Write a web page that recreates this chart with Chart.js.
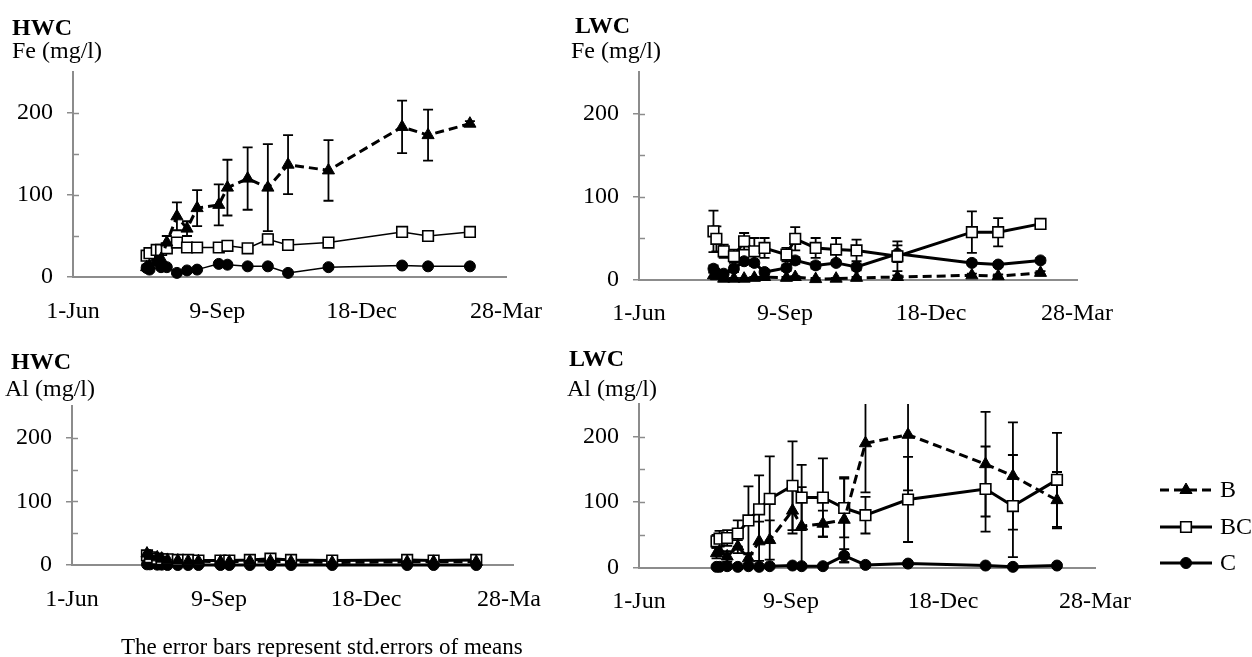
<!DOCTYPE html>
<html><head><meta charset="utf-8">
<script src="https://cdn.jsdelivr.net/npm/chart.js@4.4.0/dist/chart.umd.min.js"></script>
<style>
html,body{margin:0;padding:0;background:#fff;width:1252px;height:657px;overflow:hidden;position:relative;}
canvas{position:absolute;left:0;top:0;}
.t{position:absolute;font-family:"Liberation Serif","Times New Roman",serif;font-size:24px;line-height:24px;color:#000;white-space:nowrap;}
.b{font-weight:bold;}
</style></head><body>
<div style="position:absolute;left:0;top:0;width:1252px;height:657px;"><canvas id="c1" width="1252" height="657"></canvas></div>
<div style="position:absolute;left:0;top:0;width:1252px;height:657px;"><canvas id="c2" width="1252" height="657"></canvas></div>
<div style="position:absolute;left:0;top:0;width:541px;height:657px;overflow:hidden;"><canvas id="c3" width="1252" height="657"></canvas></div>
<div style="position:absolute;left:0;top:0;width:1252px;height:657px;"><canvas id="c4" width="1252" height="657"></canvas></div>
<div class="t b" style="left:12px;top:15px">HWC</div>
<div class="t" style="left:12px;top:38px">Fe (mg/l)</div>
<div class="t b" style="left:575px;top:13px">LWC</div>
<div class="t" style="left:571px;top:38px">Fe (mg/l)</div>
<div class="t b" style="left:11px;top:349px">HWC</div>
<div class="t" style="left:5px;top:376px">Al (mg/l)</div>
<div class="t b" style="left:569px;top:346px">LWC</div>
<div class="t" style="left:567px;top:376px">Al (mg/l)</div>
<div class="t" style="left:121px;top:635px;font-size:23px">The error bars represent std.errors of means</div>
<script>
// ---- data ----
const days = [51, 53, 58, 61, 65, 72, 79, 86, 101, 107, 121, 135, 149, 177, 228, 246, 275];
const xTickLabels = ['1-Jun', '9-Sep', '18-Dec', '28-Mar'];
const seriesNames = ['B', 'BC', 'C'];

const hwcFeB     = [12, 14, 18, 22, 42, 74, 59, 84, 88, 109, 120, 109, 137, 130, 183, 173, 187];
const hwcFeBErr  = [3, 3, 4, 5, 8, 17, 9, 22, 25, 34, 38, 53, 36, 37, 32, 31, 3];
const hwcFeBC    = [26, 29, 33, 33, 35, 42, 36, 36, 36, 38, 35, 46, 39, 42, 55, 50, 55];
const hwcFeBCErr = [3, 3, 3, 3, 3, 4, 4, 5, 4, 5, 3, 6, 3, 3, 2, 2, 2];
const hwcFeC     = [11, 9, 23, 12, 12, 5, 8, 9, 16, 15, 13, 13, 5, 12, 14, 13, 13];
const hwcFeCErr  = [3, 2, 3, 2, 2, 1, 1, 1, 2, 2, 1, 1, 1, 2, 2, 1, 1];

const lwcFeB     = [5, 4, 1, null, 1, 1, 2, 3, 2, 3, 0.5, 1, 2, 3, 5, 4, 8];
const lwcFeBErr  = [3, 2, 1, null, 1, 1, 1, 1, 1, 1, 1, 1, 1, 2, 2, 2, 2];
const lwcFeBC    = [58, 49, 34, null, 28, 46, 34, 38, 30, 49, 38, 36, 35, 28, 57, 57, 67];
const lwcFeBCErr = [25, 15, 8, null, 8, 10, 16, 12, 8, 14, 12, 14, 13, 18, 25, 17, 3];
const lwcFeC     = [13, 8, 7, null, 13, 22, 20, 9, 14, 23, 17, 20, 15, 31, 20, 18, 23];
const lwcFeCErr  = [4, 3, 3, null, 4, 4, 4, 3, 4, 4, 4, 3, 4, 10, 3, 3, 3];

const hwcAlB     = [18, 14, 12, 10, 8, 7, 6, 6, 5, 5, 6, 6, 5, 4, 5, 5, 5];
const hwcAlBErr  = [4, 3, 2, 2, 1, 1, 1, 1, 1, 1, 1, 1, 1, 1, 1, 1, 1];
const hwcAlBC    = [15, 12, 10, 9, 9, 8, 8, 7, 7, 7, 8, 10, 8, 7, 8, 7, 8];
const hwcAlBCErr = [3, 2, 2, 1, 1, 1, 1, 1, 1, 1, 1, 2, 1, 1, 1, 1, 1];
const hwcAlC     = [1, 1, 0.5, 0.5, 0, 0, 0, 0, 0, 0, 0, 0, 0, 0, 0, 0, 0];
const hwcAlCErr  = [1, 1, 0.5, 0.5, 0.5, 0.5, 0.5, 0.5, 0.5, 0.5, 0.5, 0.5, 0.5, 0.5, 0.5, 0.5, 0.5];

const lwcAlB     = [22, 25, 17, null, 32, 14, 40, 42, 87, 63, 67, 73, 190, 203, 158, 140, 103];
const lwcAlBErr  = [8, 8, 8, null, 10, 8, 30, 30, 35, 60, 20, 65, 75, 85, 80, 82, 43];
const lwcAlBC    = [40, 44, 45, null, 52, 72, 89, 105, 125, 107, 107, 91, 80, 104, 120, 94, 134];
const lwcAlBCErr = [10, 12, 12, null, 20, 52, 52, 65, 68, 50, 60, 45, 28, 65, 65, 78, 72];
const lwcAlC     = [1, 1, 2, null, 1, 2, 1, 2, 3, 2, 2, 18, 4, 6, 3, 1, 3];
const lwcAlCErr  = [1, 1, 1, null, 1, 1, 1, 1, 2, 2, 2, 10, 2, 2, 1, 1, 1];

// ---- styling ----
const GRAY = '#8c8c8c';
const FONT = "'Liberation Serif','Times New Roman',serif";
const XH = 50;

function pts(vals) { return days.map((d, i) => ({ x: d, y: vals[i] })); }

function drawMarker(ctx, style, r, bw, fill, x, y) {
  ctx.save();
  ctx.setLineDash([]);
  ctx.lineWidth = bw; ctx.strokeStyle = '#000'; ctx.fillStyle = fill;
  ctx.beginPath();
  if (style === 'rect') { const s = r * Math.SQRT1_2; ctx.rect(x - s, y - s, 2 * s, 2 * s); }
  else if (style === 'triangle') {
    ctx.moveTo(x, y - r); ctx.lineTo(x + r * 0.866, y + r / 2); ctx.lineTo(x - r * 0.866, y + r / 2); ctx.closePath();
  } else { ctx.arc(x, y, r, 0, Math.PI * 2); }
  ctx.fill(); ctx.stroke();
  ctx.restore();
}

const errorBars = {
  id: 'errorBars',
  beforeDatasetsDraw(chart) {
    const { ctx, chartArea: a, scales: { y } } = chart;
    ctx.save();
    ctx.beginPath(); ctx.rect(0, a.top, chart.width, chart.height); ctx.clip();
    ctx.strokeStyle = '#000'; ctx.lineWidth = 1.8; ctx.setLineDash([]);
    chart.data.datasets.forEach((ds, di) => {
      if (!ds.err) return;
      const meta = chart.getDatasetMeta(di);
      meta.data.forEach((pt, i) => {
        const v = ds.data[i].y, e = ds.err[i];
        if (v == null || e == null || e <= 0) return;
        const yt = y.getPixelForValue(v + e), yb = y.getPixelForValue(v - e), x = pt.x;
        ctx.beginPath();
        ctx.moveTo(x, yt); ctx.lineTo(x, yb);
        ctx.moveTo(x - 5, yt); ctx.lineTo(x + 5, yt);
        ctx.moveTo(x - 5, yb); ctx.lineTo(x + 5, yb);
        ctx.stroke();
      });
    });
    ctx.restore();
  }
};

const innerTicks = {
  id: 'innerTicks',
  beforeDatasetsDraw(chart) {
    const { ctx, chartArea: a, scales: { y } } = chart;
    ctx.save(); ctx.strokeStyle = GRAY; ctx.lineWidth = 1.5;
    y.ticks.forEach(t => {
      if (t.value <= 0 || t.value >= 250) return;
      const py = Math.round(y.getPixelForValue(t.value)) + 0.5;
      ctx.beginPath(); ctx.moveTo(a.left, py); ctx.lineTo(a.left + 6, py); ctx.stroke();
    });
    ctx.restore();
  }
};

const sideLegend = {
  id: 'sideLegend',
  afterDraw(chart) {
    const { ctx } = chart;
    const rows = [490, 527, 563];
    chart.data.datasets.forEach((ds, i) => {
      const y = rows[i];
      ctx.save();
      ctx.strokeStyle = '#000'; ctx.lineWidth = ds.borderWidth;
      ctx.setLineDash(ds.borderDash || []);
      ctx.beginPath(); ctx.moveTo(1160, y); ctx.lineTo(1212, y); ctx.stroke();
      ctx.restore();
      drawMarker(ctx, ds.pointStyle, ds.pointRadius, ds.pointBorderWidth, ds.pointBackgroundColor, 1186, y);
      ctx.save();
      ctx.fillStyle = '#000'; ctx.font = '24px ' + FONT; ctx.textBaseline = 'middle'; ctx.textAlign = 'left';
      ctx.fillText(ds.label, 1220, y + 1);
      ctx.restore();
    });
  }
};

function makeSeries(b, bErr, bc, bcErr, c, cErr, wB, wO) {
  return [
    { label: seriesNames[0], data: pts(b), err: bErr, borderColor: '#000', borderWidth: wB, borderDash: [9, 5],
      pointStyle: 'triangle', pointRadius: 7, pointBackgroundColor: '#000', pointBorderColor: '#000', pointBorderWidth: 1,
      tension: 0, spanGaps: true, clip: false, fill: false },
    { label: seriesNames[1], data: pts(bc), err: bcErr, borderColor: '#000', borderWidth: wO,
      pointStyle: 'rect', pointRadius: 7.5, pointBackgroundColor: '#fff', pointBorderColor: '#000', pointBorderWidth: 1.6,
      tension: 0, spanGaps: true, clip: false, fill: false },
    { label: seriesNames[2], data: pts(c), err: cErr, borderColor: '#000', borderWidth: wO,
      pointStyle: 'circle', pointRadius: 5.5, pointBackgroundColor: '#000', pointBorderColor: '#000', pointBorderWidth: 1,
      tension: 0, spanGaps: true, clip: false, fill: false }
  ];
}

function makeChart(id, area, datasets, extraPlugins) {
  const [L, R, T, B] = area;
  return new Chart(document.getElementById(id), {
    type: 'line',
    data: { datasets },
    options: {
      responsive: false, animation: false, devicePixelRatio: 1,
      layout: { padding: { left: 0, right: 1252 - R, top: T, bottom: 657 - B - XH } },
      plugins: { legend: { display: false }, tooltip: { enabled: false }, title: { display: false } },
      scales: {
        x: {
          type: 'linear', min: 0, max: 300,
          afterFit: s => { s.height = XH; },
          grid: { display: false, drawTicks: false },
          border: { display: true, color: GRAY, width: 2 },
          ticks: { stepSize: 100, padding: 20, color: '#000', autoSkip: false, maxRotation: 0,
            font: { family: FONT, size: 24 }, callback: v => xTickLabels[Math.round(v / 100)] }
        },
        y: {
          min: 0, max: 250,
          afterFit: s => { s.width = L; },
          grid: { drawOnChartArea: false, drawTicks: true, tickLength: 6, lineWidth: 1.5,
            color: c => (c.tick && c.tick.value % 100 === 0) ? GRAY : 'rgba(0,0,0,0)' },
          border: { display: true, color: GRAY, width: 2 },
          ticks: { stepSize: 50, padding: 14, color: '#000', font: { family: FONT, size: 24 },
            callback: v => (v % 100 === 0 ? String(v) : '') }
        }
      }
    },
    plugins: [errorBars, innerTicks].concat(extraPlugins || [])
  });
}

makeChart('c1', [73, 506, 72, 277], makeSeries(hwcFeB, hwcFeBErr, hwcFeBC, hwcFeBCErr, hwcFeC, hwcFeCErr, 3, 1.5));
makeChart('c2', [639, 1077, 72, 279.5], makeSeries(lwcFeB, lwcFeBErr, lwcFeBC, lwcFeBCErr, lwcFeC, lwcFeCErr, 3, 3));
makeChart('c3', [72, 513, 406, 565], makeSeries(hwcAlB, hwcAlBErr, hwcAlBC, hwcAlBCErr, hwcAlC, hwcAlCErr, 3, 3));
makeChart('c4', [639, 1095, 404, 567.5], makeSeries(lwcAlB, lwcAlBErr, lwcAlBC, lwcAlBCErr, lwcAlC, lwcAlCErr, 3, 3), [sideLegend]);
</script>
</body></html>
